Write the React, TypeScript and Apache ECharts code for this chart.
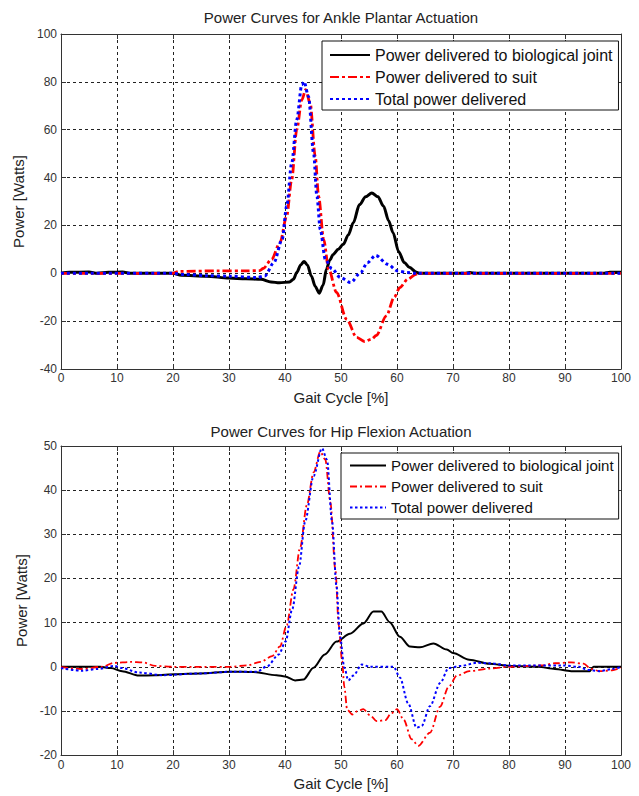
import React, { useEffect, useRef } from "react";
import * as echarts from "echarts";

const FONT = "'Liberation Sans', Arial, Helvetica, sans-serif";

const legendNames = [
  "Power delivered to biological joint",
  "Power delivered to suit",
  "Total power delivered",
];
const ankleTitle = "Power Curves for Ankle Plantar Actuation";
const hipTitle = "Power Curves for Hip Flexion Actuation";
const xAxisName = "Gait Cycle [%]";
const yAxisName = "Power [Watts]";

const xRange = { min: 0, max: 100, interval: 10 };
const ankleYRange = { min: -40, max: 100, interval: 20 };
const hipYRange = { min: -20, max: 50, interval: 10 };

// Ankle plantar actuation: [gait %, watts]
const ankleJoint = [
  [0, 0], [1.5, 0.4], [5, 0.5], [6.5, 0], [8.5, 0.4], [11, 0.5], [12.5, 0], [20, 0],
  [21.5, -0.8], [26, -1.2], [30, -2], [33, -2.3], [35.7, -2.5], [37.5, -3.6], [39, -4],
  [40.8, -3.6], [41.5, -2.5], [42.1, 0.3], [42.8, 3.5], [43.4, 4.9], [44, 3.5], [44.7, -1.1],
  [45.4, -5.5], [46.1, -8.3], [46.8, -5], [47.4, 1.7], [48, 5.5], [48.6, 7.9], [49.5, 10],
  [50.4, 12.1], [51.3, 16], [52.2, 21.1], [53.3, 28.7], [54.4, 32], [55.5, 33.6], [56.6, 32],
  [57.6, 28], [58.5, 22], [59.3, 16.9], [60.3, 9], [61.3, 4.5], [62.2, 2.5], [63.5, 0.4], [64, 0],
  [72, 0], [73, 0.3], [74, 0], [97, 0], [98, 0.4], [100, 0.4],
];
const ankleSuit = [
  [0, 0], [20, 0], [21, 0.8], [28, 1], [33, 1], [35.5, 1.1], [36.1, 2], [37.6, 5.8],
  [39.1, 12.8], [40.3, 23.9], [41.2, 39.2], [42.1, 60], [43, 72.5], [43.7, 76.7], [44.5, 71],
  [45.4, 48.9], [46, 32.2], [46.9, 14.2], [47.8, 1.8], [49.2, -8], [51, -19.2], [52.8, -26.8],
  [54.2, -28.5], [55.5, -27.5], [56.3, -26], [58.1, -17.8], [59.5, -10], [60.5, -6],
  [61.9, -2.5], [63.4, -0.4], [64, 0], [100, 0],
];
const ankleTotal = [
  [0, 0], [20, 0], [22, -0.5], [26, -1], [30, -1.2], [35, -1.8], [36.4, -1.1], [38, 4.4],
  [39.5, 14.2], [40.3, 28], [41.2, 46.1], [42.1, 64.2], [43, 78.8], [43.4, 80.1], [44.2, 73.9],
  [45.1, 50.3], [45.7, 32.2], [46.3, 18.3], [47.2, 5.8], [48.4, 1.8], [49.9, -1.8], [51.7, -3.9],
  [53.5, 0.3], [54.7, 4.4], [56.2, 7.5], [58.3, 3.8], [60.1, 1], [61.9, 0.3], [63, 0], [100, 0],
];

// Hip flexion actuation: [gait %, watts]
const hipJoint = [
  [0, 0], [7, 0], [8.9, -0.3], [10.9, -1], [13.9, -2], [16.8, -1.9], [20.4, -1.7], [24.8, -1.5],
  [30.2, -1.1], [34.4, -1.2], [38.5, -1.9], [40, -2.2], [41.8, -3.1], [43.3, -2.9], [45.1, -0.2],
  [47.1, 2.8], [49.2, 5.7], [51.6, 7.5], [54, 9.8], [55.8, 12.5], [57.2, 12.5], [58.7, 10.1],
  [60.5, 6.8], [62.3, 4.6], [64.1, 4.4], [66.5, 5.3], [68.9, 3.9], [70, 3.1], [72.9, 1.6],
  [76.5, 0.7], [80.1, 0.2], [85.2, 0], [88.2, -0.5], [91.1, -1], [94.4, -1], [95.1, 0], [100, 0],
];
const hipSuit = [
  [0, -0.1], [3.7, -0.5], [7.3, 0], [9.5, 0.9], [12.4, 1.1], [14.6, 1], [16.8, 0.2], [20, 0],
  [30.2, 0], [33.2, 0.3], [35.6, 1.1], [37.7, 2.4], [39.1, 4.6], [40.3, 9.4], [41.5, 17.5],
  [42.7, 27], [43.9, 36.6], [45.1, 44], [46.3, 48.7], [47.2, 46.9], [48.1, 37.3], [49, 21.9],
  [49.6, 9.4], [50.2, 1.3], [50.6, -4.6], [51.1, -9.7], [52, -10.8], [53, -10], [54, -9.6],
  [55.2, -11], [56.4, -12.3], [57.9, -12.1], [59, -10.5], [60, -9.6], [61.2, -12], [62.6, -16.4],
  [63.8, -17.9], [65.9, -14.9], [67.7, -9], [69.2, -4.6], [70.7, -2], [72.9, -1], [76.5, -0.4],
  [80.1, 0], [85.9, 0.3], [88.2, 0.8], [91.1, 1], [93.3, 0.7], [94.7, -0.5], [96.2, -1],
  [98.4, -0.8], [100, -0.2],
];
const hipTotal = [
  [0, -0.3], [3.7, -0.9], [6.6, -0.5], [9.5, 0.2], [10.9, -0.3], [13.9, -1.3], [18.2, -1.9],
  [24.8, -1.5], [30.8, -1.1], [35, -1.1], [36.8, 0.1], [38.9, 2.8], [40.1, 5.7], [41.3, 13.1],
  [42.5, 22.6], [43.6, 32.9], [45.1, 43.2], [46.6, 49.5], [47.5, 46.9], [48.4, 32.9],
  [49.2, 18.2], [49.8, 7.1], [50.6, -0.2], [51.3, -3.1], [52.2, -2], [53.7, 0.5], [55.2, 0],
  [59.4, 0], [60.5, -2.4], [62, -8.3], [63.5, -13.8], [64.4, -13.4], [65.9, -8.9], [67.7, -3.7],
  [69.2, -0.3], [71.4, 0.2], [74.3, 0.9], [76.5, 0.8], [80.1, 0.3], [89.6, 0.3], [92.5, 0],
  [94, -0.7], [96.2, -1], [98.4, -0.5], [100, 0],
];

type Cfg = {
  title: string;
  titleTop: number;
  gridTop: number;
  gridHeight: number;
  yRange: { min: number; max: number; interval: number };
  legendTop: number;
  legendLeft: number;
  legendPadding: number[];
  legendFont: number;
  legendLineHeight: number;
  legendGap: number;
  legendItemWidth: number;
  xLabelMargin: number;
  xNameGap: number;
  yNameGap: number;
  data: number[][][];
  widths: number[];
  dashes: (string | number[])[];
};

function buildOption(c: Cfg) {
  const axisLine = { show: true, onZero: false, lineStyle: { color: "#333", width: 1 } };
  const axisTick = { show: true, inside: true, length: 5, lineStyle: { color: "#333", width: 1 } };
  const colors = ["#000000", "#ff0000", "#0000ff"];
  return {
    animation: false,
    backgroundColor: "#ffffff",
    title: {
      text: c.title,
      left: 341,
      top: c.titleTop,
      textAlign: "center",
      padding: 0,
      textStyle: { fontFamily: FONT, fontSize: 15, fontWeight: "normal", color: "#222" },
    },
    legend: {
      data: legendNames,
      orient: "vertical",
      left: c.legendLeft,
      top: c.legendTop,
      padding: c.legendPadding,
      itemGap: c.legendGap,
      itemWidth: c.legendItemWidth,
      itemHeight: 12,
      backgroundColor: "#ffffff",
      borderColor: "#111",
      borderWidth: 1,
      borderRadius: 0,
      selectedMode: false,
      itemStyle: { color: "transparent", borderWidth: 0, opacity: 0 },
      textStyle: {
        fontFamily: FONT,
        fontSize: c.legendFont,
        lineHeight: c.legendLineHeight,
        color: "#111",
      },
    },
    grid: { left: 61, top: c.gridTop, width: 560, height: c.gridHeight, containLabel: false },
    xAxis: [
      {
        type: "value",
        position: "bottom",
        ...xRange,
        axisLine,
        axisTick,
        axisLabel: { margin: c.xLabelMargin, fontFamily: FONT, fontSize: 12, color: "#333" },
        splitLine: { show: true, lineStyle: { type: [3, 3], color: "#222", width: 1 } },
        name: xAxisName,
        nameLocation: "middle",
        nameGap: c.xNameGap,
        nameTextStyle: { fontFamily: FONT, fontSize: 15, color: "#222" },
      },
      {
        type: "value",
        position: "top",
        ...xRange,
        axisLine,
        axisTick,
        axisLabel: { show: false },
        splitLine: { show: false },
      },
    ],
    yAxis: [
      {
        type: "value",
        position: "left",
        ...c.yRange,
        axisLine,
        axisTick,
        axisLabel: { margin: 4, fontFamily: FONT, fontSize: 12, color: "#333" },
        splitLine: { show: true, lineStyle: { type: [3, 3], color: "#222", width: 1 } },
        name: yAxisName,
        nameLocation: "middle",
        nameGap: c.yNameGap,
        nameTextStyle: { fontFamily: FONT, fontSize: 15, color: "#222" },
      },
      {
        type: "value",
        position: "right",
        ...c.yRange,
        axisLine,
        axisTick,
        axisLabel: { show: false },
        splitLine: { show: false },
      },
    ],
    series: legendNames.map((name, i) => ({
      name,
      type: "line",
      xAxisIndex: 0,
      yAxisIndex: 0,
      data: c.data[i],
      symbol: "none",
      showSymbol: false,
      smooth: 0.3,
      smoothMonotone: "x",
      lineStyle: { color: colors[i], width: c.widths[i], type: c.dashes[i], cap: "butt" },
      itemStyle: { color: colors[i] },
      z: 2 + i,
    })),
  };
}

const ankleCfg: Cfg = {
  title: ankleTitle,
  titleTop: 10,
  gridTop: 34,
  gridHeight: 336,
  yRange: ankleYRange,
  legendTop: 41,
  legendLeft: 322,
  legendPadding: [5, 6, 2, 7],
  legendFont: 16,
  legendLineHeight: 18,
  legendGap: 4,
  legendItemWidth: 40,
  xLabelMargin: 3,
  xNameGap: 21,
  yNameGap: 31,
  data: [ankleJoint, ankleSuit, ankleTotal],
  widths: [3, 2.8, 3],
  dashes: ["solid", [9, 3, 3, 3], [3, 3]],
};

const hipCfg: Cfg = {
  title: hipTitle,
  titleTop: 14,
  gridTop: 36,
  gridHeight: 317,
  yRange: hipYRange,
  legendTop: 43,
  legendLeft: 341,
  legendPadding: [4, 5, 3, 8],
  legendFont: 15,
  legendLineHeight: 17,
  legendGap: 4,
  legendItemWidth: 36,
  xLabelMargin: 4,
  xNameGap: 17,
  yNameGap: 27,
  data: [hipJoint, hipSuit, hipTotal],
  widths: [2, 1.8, 2],
  dashes: ["solid", [7, 3, 2, 3], [2.5, 2.5]],
};

function Chart({ cfg, height }: { cfg: Cfg; height: number }) {
  const ref = useRef<HTMLDivElement>(null);
  useEffect(() => {
    if (!ref.current) return;
    const chart = echarts.init(ref.current, undefined, { renderer: "svg" });
    chart.setOption(buildOption(cfg) as any);
    return () => chart.dispose();
  }, [cfg]);
  return <div ref={ref} style={{ width: 639, height }} />;
}

export default function App() {
  return (
    <div
      style={{
        position: "absolute",
        left: 0,
        top: 0,
        width: 639,
        height: 796,
        background: "#ffffff",
        overflow: "hidden",
      }}
    >
      <Chart cfg={ankleCfg} height={410} />
      <Chart cfg={hipCfg} height={386} />
    </div>
  );
}
